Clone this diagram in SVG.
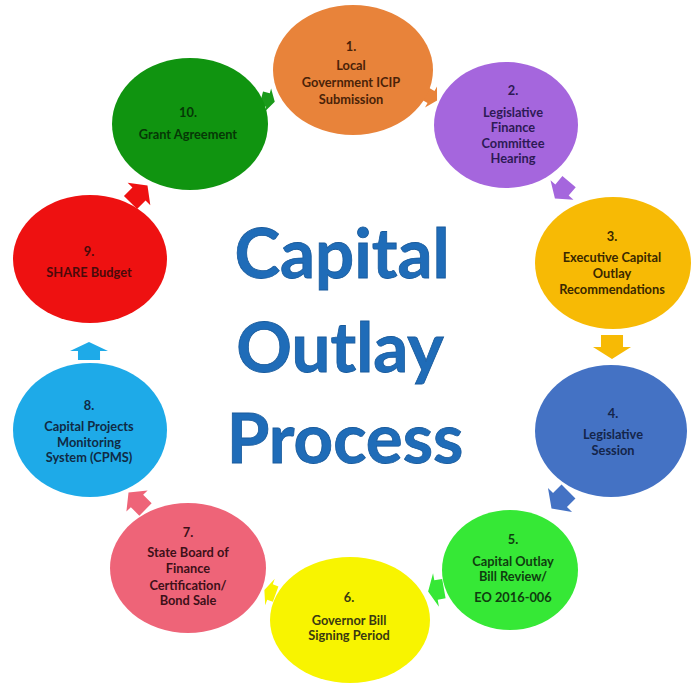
<svg xmlns="http://www.w3.org/2000/svg" xmlns:xlink="http://www.w3.org/1999/xlink" width="700" height="686" viewBox="0 0 700 686">
<style>
.lbl{font-family:Lato,"Open Sans","Liberation Sans",sans-serif;font-weight:bold;font-size:12.8px;text-anchor:middle}
.title{font-family:Lato,"Open Sans","Liberation Sans",sans-serif;font-weight:bold;font-size:69px;text-anchor:middle;fill:#1F6CB8;stroke:#185a9c;stroke-width:0.8}
</style>
<defs>
<polygon id="arr" points="-1,-0.58 0,-0.58 0,-1 1,0 0,1 0,0.58 -1,0.58"/>
</defs>
<rect width="700" height="686" fill="#ffffff"/>
<g id="connectors">
<use xlink:href="#arr" href="#arr" fill="#1a9a1a" transform="translate(268,100) rotate(15) scale(7,12)"/>
<use xlink:href="#arr" href="#arr" fill="#E8833A" transform="translate(431,97) rotate(30) scale(7,12)"/>
<use xlink:href="#arr" href="#arr" fill="#A566DD" transform="translate(562,190) rotate(130) scale(11,15)"/>
<use xlink:href="#arr" href="#arr" fill="#F7BA05" transform="translate(612,347) rotate(90) scale(12,19)"/>
<use xlink:href="#arr" href="#arr" fill="#4472C4" transform="translate(560,500) rotate(135) scale(12,17)"/>
<use xlink:href="#arr" href="#arr" fill="#36E836" transform="translate(436,590) rotate(170) scale(8,17)"/>
<use xlink:href="#arr" href="#arr" fill="#F8F400" transform="translate(270,592) rotate(200) scale(6,14)"/>
<use xlink:href="#arr" href="#arr" fill="#EE6478" transform="translate(137,501) rotate(-135) scale(12,15)"/>
<use xlink:href="#arr" href="#arr" fill="#1EAAE8" transform="translate(89,351) rotate(-90) scale(9,19)"/>
<use xlink:href="#arr" href="#arr" fill="#EE1111" transform="translate(139,194) rotate(-45) scale(12,16)"/>
</g>
<g id="n1">
<ellipse cx="353" cy="70" rx="80" ry="65" fill="#E8833A"/>
<text class="lbl" fill="#4a2208"><tspan x="351" y="51">1.</tspan><tspan x="351" y="70">Local</tspan><tspan x="351" y="87">Government ICIP</tspan><tspan x="351" y="104">Submission</tspan></text>
</g>
<g id="n2">
<ellipse cx="506" cy="125" rx="72" ry="63" fill="#A566DD"/>
<text class="lbl" fill="#2d1a55"><tspan x="513" y="95">2.</tspan><tspan x="513" y="117">Legislative</tspan><tspan x="513" y="132">Finance</tspan><tspan x="513" y="148">Committee</tspan><tspan x="513" y="163">Hearing</tspan></text>
</g>
<g id="n3">
<ellipse cx="613" cy="263" rx="78" ry="66" fill="#F7BA05"/>
<text class="lbl" fill="#3a2800"><tspan x="612" y="241">3.</tspan><tspan x="612" y="262">Executive Capital</tspan><tspan x="612" y="278">Outlay</tspan><tspan x="612" y="294">Recommendations</tspan></text>
</g>
<g id="n4">
<ellipse cx="611" cy="431" rx="76" ry="66" fill="#4472C4"/>
<text class="lbl" fill="#14254a"><tspan x="613" y="418">4.</tspan><tspan x="613" y="439">Legislative</tspan><tspan x="613" y="455">Session</tspan></text>
</g>
<g id="n5">
<ellipse cx="510" cy="570" rx="68" ry="60" fill="#36E836"/>
<text class="lbl" fill="#0f3d0f"><tspan x="513" y="544">5.</tspan><tspan x="513" y="566">Capital Outlay</tspan><tspan x="513" y="581">Bill Review/</tspan><tspan x="513" y="602">EO 2016-006</tspan></text>
</g>
<g id="n6">
<ellipse cx="350" cy="620" rx="80" ry="63" fill="#F8F400"/>
<text class="lbl" fill="#3a3a10"><tspan x="349" y="602">6.</tspan><tspan x="349" y="625">Governor Bill</tspan><tspan x="349" y="640">Signing Period</tspan></text>
</g>
<g id="n7">
<ellipse cx="188" cy="568" rx="78" ry="65" fill="#EE6478"/>
<text class="lbl" fill="#3d1018"><tspan x="188" y="537">7.</tspan><tspan x="188" y="557">State Board of</tspan><tspan x="188" y="573">Finance</tspan><tspan x="188" y="590">Certification/</tspan><tspan x="188" y="605">Bond Sale</tspan></text>
</g>
<g id="n8">
<ellipse cx="90" cy="430" rx="77" ry="67" fill="#1EAAE8"/>
<text class="lbl" fill="#102a45"><tspan x="89" y="410">8.</tspan><tspan x="89" y="431">Capital Projects</tspan><tspan x="89" y="447">Monitoring</tspan><tspan x="89" y="462">System (CPMS)</tspan></text>
</g>
<g id="n9">
<ellipse cx="90" cy="259" rx="77" ry="64" fill="#EE1111"/>
<text class="lbl" fill="#4a0a0a"><tspan x="89" y="256">9.</tspan><tspan x="89" y="277">SHARE Budget</tspan></text>
</g>
<g id="n10">
<ellipse cx="190" cy="124" rx="78" ry="66" fill="#109410"/>
<text class="lbl" fill="#063806"><tspan x="188" y="117">10.</tspan><tspan x="188" y="139">Grant Agreement</tspan></text>
</g>
<g id="title">
<text class="title" x="342" y="278">Capital</text>
<text class="title" x="340" y="372">Outlay</text>
<text class="title" x="345" y="463">Process</text>
</g>
</svg>
